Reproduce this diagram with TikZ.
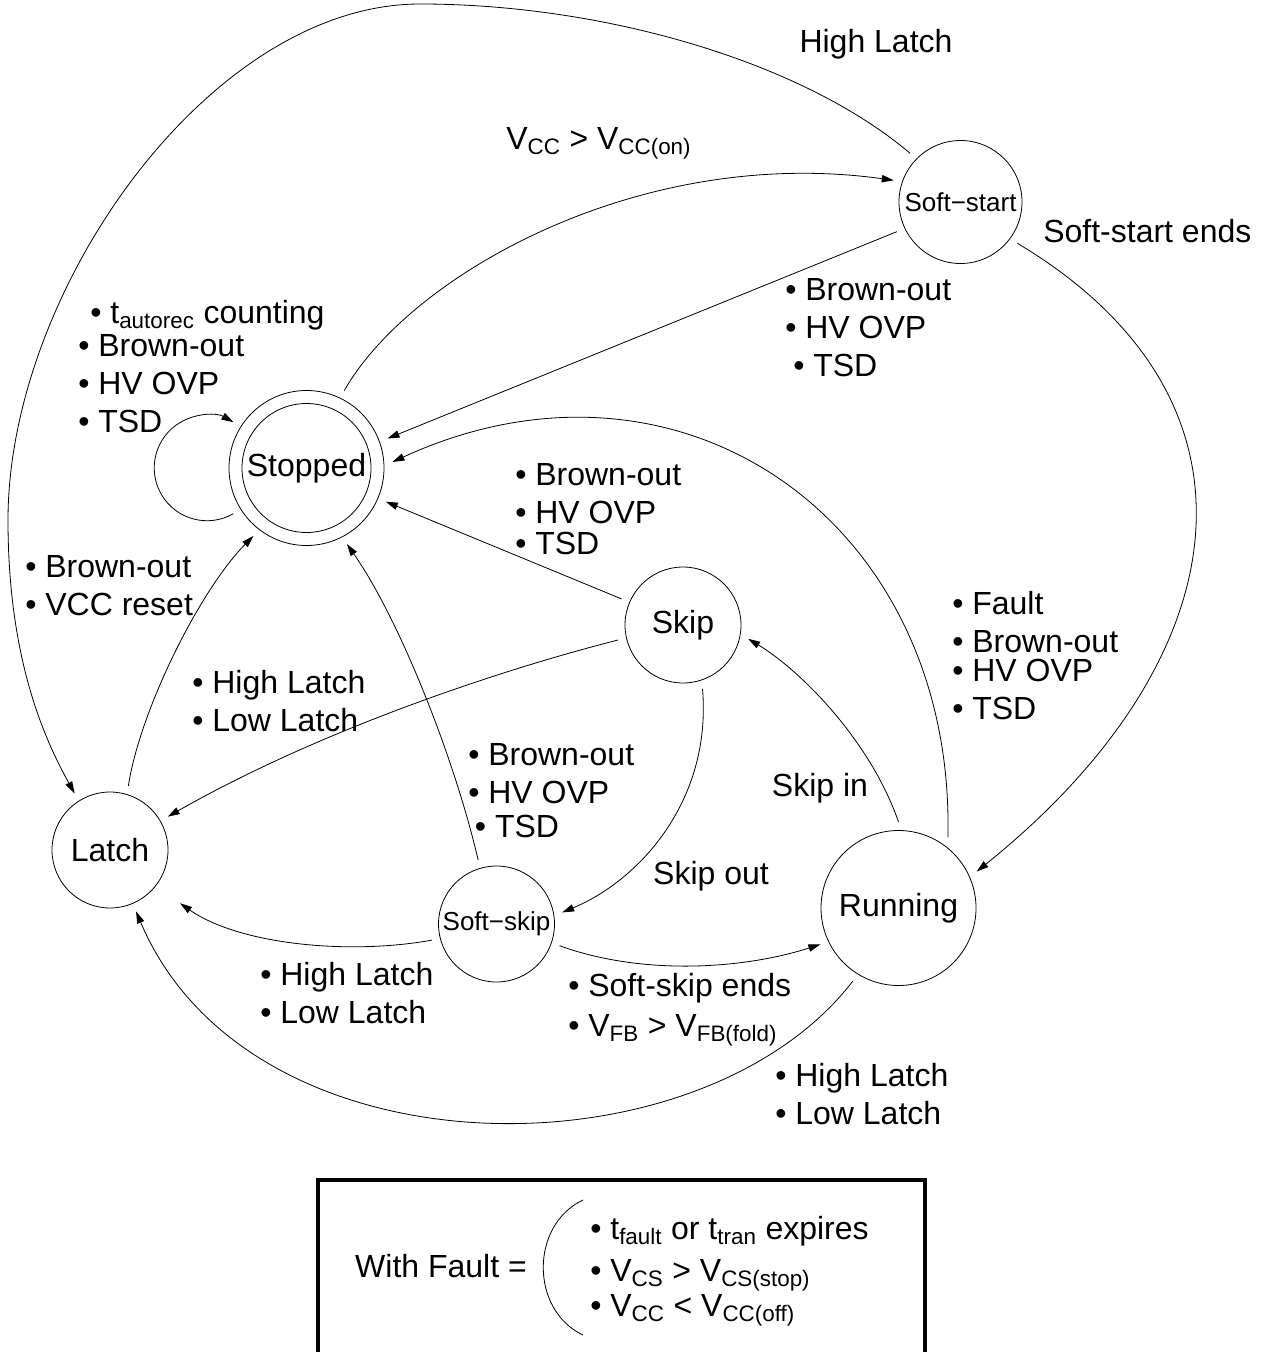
\documentclass[tikz,border=0pt]{standalone}
\usepackage{fontspec}
\setmainfont{Liberation Sans}
\usetikzlibrary{arrows.meta}
\newcommand{\lo}[1]{\textsubscript{#1}}

\begin{document}
\begin{tikzpicture}[x=0.75pt,y=0.75pt,yscale=-1,xscale=1,
  every node/.style={font=\fontsize{24}{28.5}\selectfont},
  stnode/.style={draw,circle,line width=0.6pt,inner sep=0pt,outer sep=6.5pt},
  small/.style={font=\fontsize{19.5}{23}\selectfont},
  trans/.style={line width=0.6pt,-{Triangle[length=9pt,width=5.5pt]}},
  lbl/.style={anchor=west,align=left,inner sep=0pt}]
\useasboundingbox (0,0) rectangle (1263,1352);

%Shape: Circle (states)
\node[stnode,minimum size=116.25pt] (stopped) at (306.5,468) {Stopped};
\draw[line width=0.6pt] (stopped.center) circle[radius=64.5];
\node[stnode,minimum size=92.25pt,small] (softstart) at (960.5,202) {Soft−start};
\node[stnode,minimum size=87pt] (skip) at (683,625) {Skip};
\node[stnode,minimum size=87pt] (latch) at (110,850) {Latch};
\node[stnode,minimum size=87pt,small] (softskip) at (496.5,924) {Soft−skip};
\node[stnode,minimum size=116.25pt] (running) at (898.5,908) {Running};

%Curve Lines
\draw[trans] (stopped.212) arc[start angle=60,end angle=300,radius=52.8];
\draw[trans] (latch.74) .. controls (140,710) and (200,590) .. (stopped.232);
\draw[trans] (softstart.136) .. controls (800,60) and (600,4) .. (420,4)
  .. controls (210,4) and (8,290) .. (8,520)
  .. controls (8,660) and (45,740) .. (latch.122);
\draw[trans] (stopped.64) .. controls (410,275) and (640,145) .. (softstart.162);
\draw[trans] (softstart.324) .. controls (1280,400) and (1240,660) .. (running.25);
\draw[trans] (running.55) .. controls (955,520) and (680,330) .. (stopped.4);
\draw[trans] (skip.193) .. controls (500,670) and (320,730) .. (latch.30);
\draw[trans] (skip.287) .. controls (712,800) and (640,880) .. (softskip.10);
\draw[trans] (running.90) .. controls (870,740) and (800,670) .. (skip.348);
\draw[trans] (softskip.106) .. controls (455,760) and (400,620) .. (stopped.298);
\draw[trans,shorten >=16pt] (softskip.194) .. controls (350,955) and (240,945) .. (latch.322);
\draw[trans] (softskip.341) .. controls (640,975) and (740,970) .. (running.205);
\draw[trans] (running.238) .. controls (700,1180) and (250,1180) .. (latch.293);

%Straight Lines
\draw[trans] (softstart.205) -- (stopped.20);
\draw[trans] (skip.157) -- (stopped.337);

% Text Node
\node (hilatch) at (876,44) {High Latch};
% Text Node
\node[lbl] (vccon) at (506,143) {V\lo{CC} > V\lo{CC(on)}};
% Text Node
\node[lbl] (ssends) at (1043,231) {Soft-start ends};
% Text Node
\node[lbl] (ssstop) at (785,327.5) {• Brown-out\\• HV OVP\\\hspace{6pt}• TSD};
% Text Node
\node[lbl] (loopstop) at (78,366.5) {\hspace{9pt}• t\lo{autorec} counting\\[-4pt]• Brown-out\\• HV OVP\\• TSD};
% Text Node
\node[lbl] (skipstop) at (515,509) {• Brown-out\\• HV OVP\\[-5pt]• TSD};
% Text Node
\node[lbl] (latchstop) at (25,586) {• Brown-out\\• VCC reset};
% Text Node
\node[lbl] (runstop) at (952,655.5) {• Fault\\• Brown-out\\[-7pt]• HV OVP\\[0pt]• TSD};
% Text Node
\node[lbl] (skiplatch) at (192,701) {• High Latch\\• Low Latch};
% Text Node
\node[lbl] (sskipstop) at (468,790.5) {• Brown-out\\• HV OVP\\[-3pt]\hspace{5pt}• TSD};
% Text Node
\node (skipin) at (820,788) {Skip in};
% Text Node
\node (skipout) at (711,876) {Skip out};
% Text Node
\node[lbl] (sskiplatch) at (260,993) {• High Latch\\• Low Latch};
% Text Node
\node[lbl] (sskiprun) at (568,1010) {• Soft-skip ends\\[1.5pt]• V\lo{FB} > V\lo{FB(fold)}};
% Text Node
\node[lbl] (runlatch) at (775,1094) {• High Latch\\• Low Latch};

%Shape: Rectangle (legend)
\draw[line width=3.5pt] (318,1356) -- (318,1180) -- (925,1180) -- (925,1356);
\draw[line width=0.6pt] (583,1200) .. controls (530,1225) and (530,1310) .. (583,1335);
% Text Node
\node (withfault) at (441,1266) {With Fault =};
% Text Node
\node[lbl] (faultlist) at (590,1271) {• t\lo{fault} or t\lo{tran} expires\\[3pt]• V\lo{CS} > V\lo{CS(stop)}\\[-2pt]• V\lo{CC} < V\lo{CC(off)}};

\end{tikzpicture}
\end{document}
